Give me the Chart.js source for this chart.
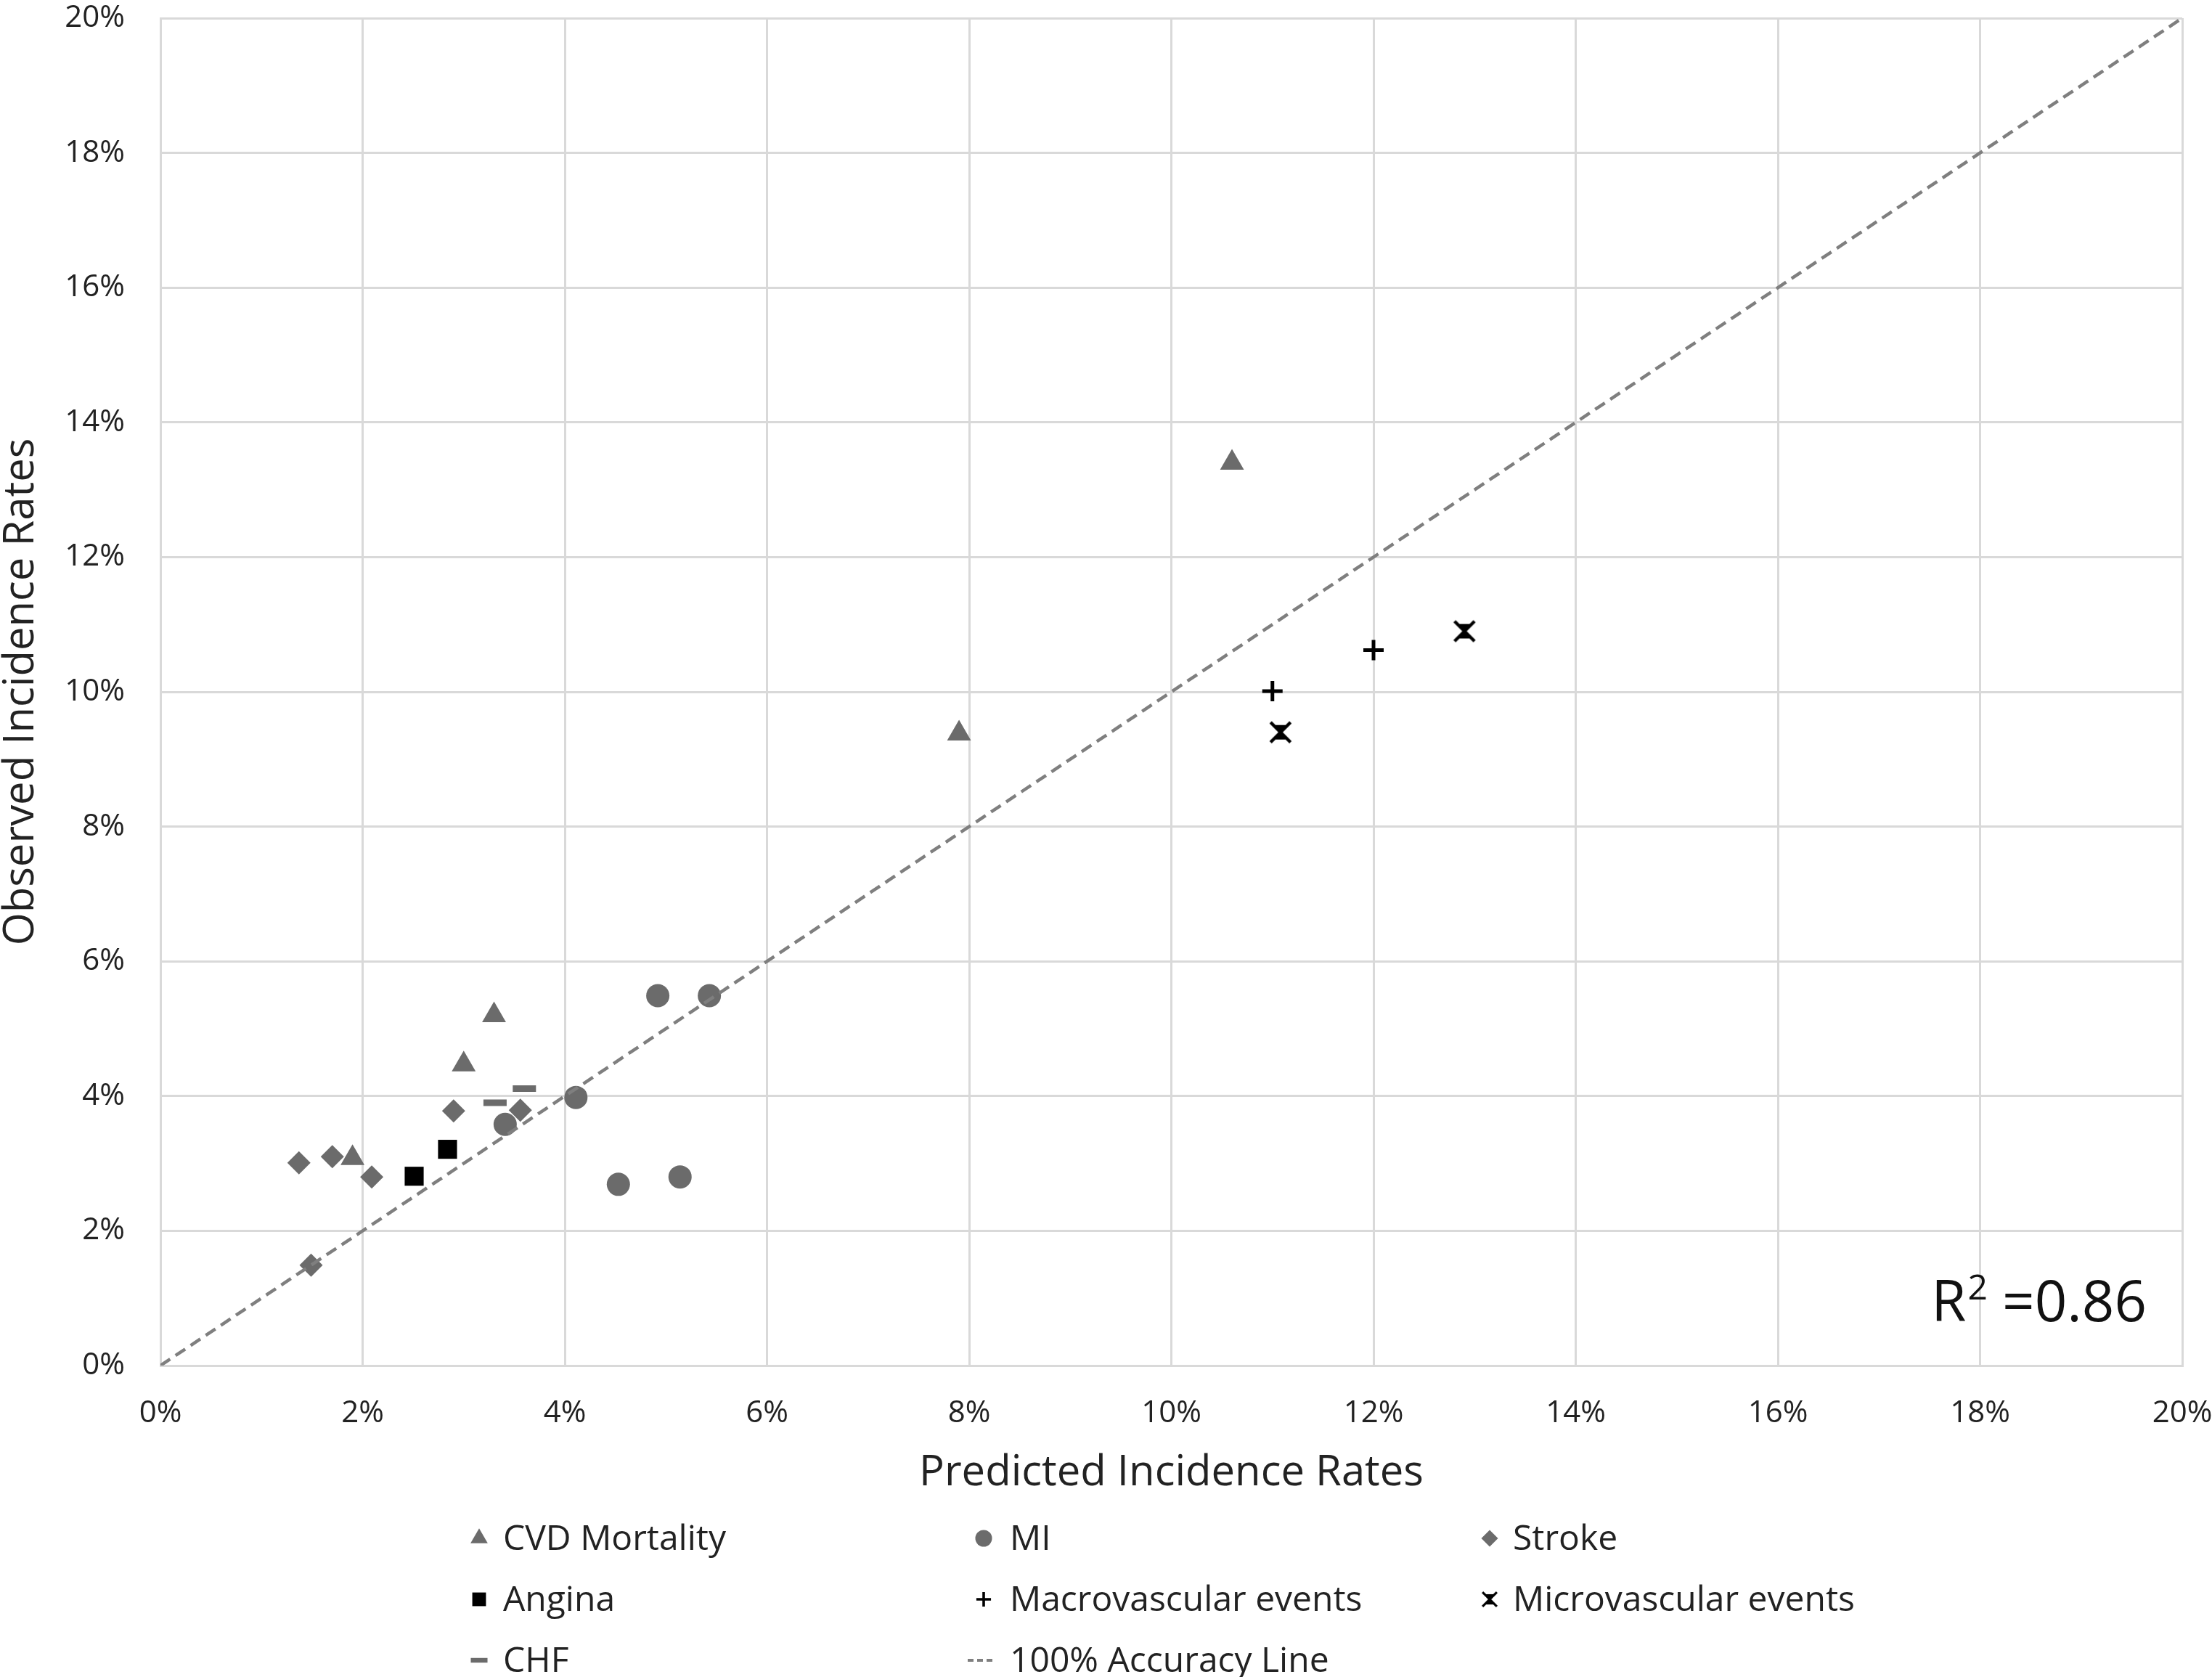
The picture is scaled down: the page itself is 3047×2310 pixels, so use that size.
<!DOCTYPE html>
<html>
<head>
<meta charset="utf-8">
<script src="https://cdn.jsdelivr.net/npm/chart.js@4.4.1/dist/chart.umd.min.js"></script>
<style>
  html, body { margin: 0; padding: 0; background: #fff; }
  canvas { display: block; }
</style>
</head>
<body>
<canvas id="chart" width="3047" height="2310"></canvas>
<script>
// predicted (x) vs observed (y) incidence, in percent
const cvdX = [1.9, 3.0, 3.3, 7.9, 10.6];
const cvdY = [3.08, 4.47, 5.2, 9.38, 13.4];
const miX = [3.41, 4.11, 4.53, 4.92, 5.14, 5.43];
const miY = [3.58, 3.98, 2.69, 5.49, 2.8, 5.49];
const strokeX = [1.37, 1.49, 1.7, 2.09, 2.9, 3.56];
const strokeY = [3.01, 1.49, 3.1, 2.8, 3.78, 3.79];
const anginaX = [2.51, 2.84];
const anginaY = [2.81, 3.21];
const macroX = [11.0, 12.0];
const macroY = [10.01, 10.62];
const microX = [11.08, 12.9];
const microY = [9.4, 10.9];
const chfX = [3.31, 3.6];
const chfY = [3.9, 4.11];
const accuracyX = [0, 20];
const accuracyY = [0, 20];
const r2Text = '0.86';

const FONT = "'Open Sans', sans-serif";
const TEXT = '#222222';
const GREY = '#6b6b6b';

function pts(xs, ys) {
    return xs.map((x, i) => ({ x: x, y: ys[i] }));
}

// asterisk-like marker: X, short vertical stem and two short bars
function makeStarMark(size, lw) {
    const c = document.createElement('canvas');
    c.width = size;
    c.height = size;
    const g = c.getContext('2d');
    g.strokeStyle = '#000';
    g.lineWidth = lw;
    const p = lw / 2, q = size - lw / 2;
    const a = size * 0.26, b = size * 0.74;
    g.beginPath();
    g.moveTo(p, p); g.lineTo(q, q);
    g.moveTo(q, p); g.lineTo(p, q);
    g.moveTo(a, a); g.lineTo(b, a);
    g.moveTo(a, b); g.lineTo(b, b);
    g.moveTo(size / 2, a); g.lineTo(size / 2, b);
    g.stroke();
    return c;
}
const starMark = makeStarMark(32, 4.5);

function drawMark(ctx, ds, x, y, k) {
    const style = ds.pointStyle;
    const r = (ds.pointRadius || 0) * k;
    ctx.save();
    ctx.fillStyle = ds.pointBackgroundColor || '#000';
    ctx.strokeStyle = ds.pointBorderColor || ds.borderColor || '#000';
    ctx.lineWidth = (ds.pointBorderWidth || 0) * k;
    ctx.beginPath();
    if (ds.showLine) {
        ctx.strokeStyle = ds.borderColor;
        ctx.lineWidth = 4;
        ctx.setLineDash([8, 5]);
        ctx.moveTo(x - 22, y);
        ctx.lineTo(x + 14, y);
        ctx.stroke();
    } else if (typeof style === 'object') {
        const s = style.width * k;
        ctx.drawImage(style, x - s / 2, y - s / 2, s, s);
    } else if (style === 'triangle') {
        ctx.moveTo(x, y - r);
        ctx.lineTo(x + r * Math.sin(Math.PI / 3), y + r / 2);
        ctx.lineTo(x - r * Math.sin(Math.PI / 3), y + r / 2);
        ctx.closePath();
        ctx.fill();
    } else if (style === 'circle') {
        ctx.arc(x, y, r, 0, Math.PI * 2);
        ctx.fill();
    } else if (style === 'rectRot') {
        ctx.moveTo(x, y - r); ctx.lineTo(x + r, y); ctx.lineTo(x, y + r); ctx.lineTo(x - r, y);
        ctx.closePath();
        ctx.fill();
    } else if (style === 'rect') {
        const h = r * Math.SQRT1_2;
        ctx.fillRect(x - h, y - h, 2 * h, 2 * h);
    } else if (style === 'cross') {
        ctx.moveTo(x - r, y); ctx.lineTo(x + r, y);
        ctx.moveTo(x, y - r); ctx.lineTo(x, y + r);
        ctx.stroke();
    } else if (style === 'line') {
        ctx.moveTo(x - r, y); ctx.lineTo(x + r, y);
        ctx.stroke();
    }
    ctx.restore();
}

// three-column legend under the x axis title
const gridLegend = {
    id: 'gridLegend',
    afterDraw(chart) {
        const ctx = chart.ctx;
        const markX = [660, 1355, 2052];
        const textX = [693, 1391, 2084];
        const rowBase = [2135, 2219, 2303];
        ctx.save();
        ctx.font = '48px ' + FONT;
        ctx.fillStyle = TEXT;
        ctx.textAlign = 'left';
        ctx.textBaseline = 'alphabetic';
        chart.data.datasets.forEach((ds, i) => {
            const col = i % 3, row = Math.floor(i / 3);
            drawMark(ctx, ds, markX[col], rowBase[row] - 16, 0.72);
            ctx.fillText(ds.label, textX[col], rowBase[row]);
        });
        ctx.restore();
    }
};

// R² note in the bottom right corner of the plot
const r2Label = {
    id: 'r2Label',
    afterDraw(chart) {
        const ctx = chart.ctx;
        const a = chart.chartArea;
        const right = a.right - 49;
        const base = a.bottom - 61;
        ctx.save();
        ctx.fillStyle = '#111';
        ctx.textBaseline = 'alphabetic';
        ctx.textAlign = 'right';
        ctx.font = '78px ' + FONT;
        const rest = ' =' + r2Text;
        ctx.fillText(rest, right, base);
        let x = right - ctx.measureText(rest).width;
        ctx.font = '48px ' + FONT;
        ctx.fillText('2', x, base - 30);
        x -= ctx.measureText('2').width + 2;
        ctx.font = '78px ' + FONT;
        ctx.fillText('R', x, base);
        ctx.restore();
    }
};

const axisTicks = {
    color: TEXT,
    font: { family: FONT, size: 42 },
    stepSize: 2,
    callback: (v) => v + '%'
};

new Chart(document.getElementById('chart'), {
    type: 'scatter',
    data: {
        datasets: [
            { label: 'CVD Mortality', data: pts(cvdX, cvdY), pointStyle: 'triangle', pointRadius: 19,
              pointBackgroundColor: GREY, pointBorderWidth: 0 },
            { label: 'MI', data: pts(miX, miY), pointStyle: 'circle', pointRadius: 16,
              pointBackgroundColor: GREY, pointBorderWidth: 0 },
            { label: 'Stroke', data: pts(strokeX, strokeY), pointStyle: 'rectRot', pointRadius: 16,
              pointBackgroundColor: GREY, pointBorderWidth: 0 },
            { label: 'Angina', data: pts(anginaX, anginaY), pointStyle: 'rect', pointRadius: 18.5,
              pointBackgroundColor: '#000', pointBorderWidth: 0 },
            { label: 'Macrovascular events', data: pts(macroX, macroY), pointStyle: 'cross', pointRadius: 14,
              pointBorderColor: '#000', pointBorderWidth: 5 },
            { label: 'Microvascular events', data: pts(microX, microY), pointStyle: starMark, pointRadius: 16 },
            { label: 'CHF', data: pts(chfX, chfY), pointStyle: 'line', pointRadius: 16,
              pointBorderColor: GREY, pointBorderWidth: 9 },
            { label: '100% Accuracy Line', data: pts(accuracyX, accuracyY), showLine: true, pointRadius: 0,
              borderColor: '#7f7f7f', borderWidth: 4.5, borderDash: [16, 9], order: -1 }
        ]
    },
    options: {
        responsive: false,
        animation: false,
        events: [],
        layout: { padding: { left: 0, right: 41, top: 20, bottom: 252 } },
        plugins: {
            legend: { display: false },
            tooltip: { enabled: false }
        },
        scales: {
            x: {
                type: 'linear',
                position: 'bottom',
                min: 0,
                max: 20,
                ticks: Object.assign({ padding: 41 }, axisTicks),
                grid: { color: '#d9d9d9', lineWidth: 3, drawTicks: false },
                border: { color: '#d9d9d9', width: 3 },
                title: {
                    display: true,
                    text: 'Predicted Incidence Rates',
                    color: TEXT,
                    font: { family: FONT, size: 58, lineHeight: 1 },
                    padding: 0
                },
                afterFit(s) {
                    s.height = 177;
                    s.paddingLeft = 0;
                    s.paddingRight = 0;
                }
            },
            y: {
                type: 'linear',
                min: 0,
                max: 20,
                ticks: Object.assign({ padding: 49 }, axisTicks),
                grid: { color: '#d9d9d9', lineWidth: 3, drawTicks: false },
                border: { color: '#d9d9d9', width: 3 },
                title: {
                    display: true,
                    text: 'Observed Incidence Rates',
                    color: TEXT,
                    font: { family: FONT, size: 58, lineHeight: 1 },
                    padding: 0
                },
                afterFit(s) {
                    s.width = 221;
                    s.paddingTop = 0;
                    s.paddingBottom = 0;
                }
            }
        }
    },
    plugins: [gridLegend, r2Label]
});
</script>
</body>
</html>
